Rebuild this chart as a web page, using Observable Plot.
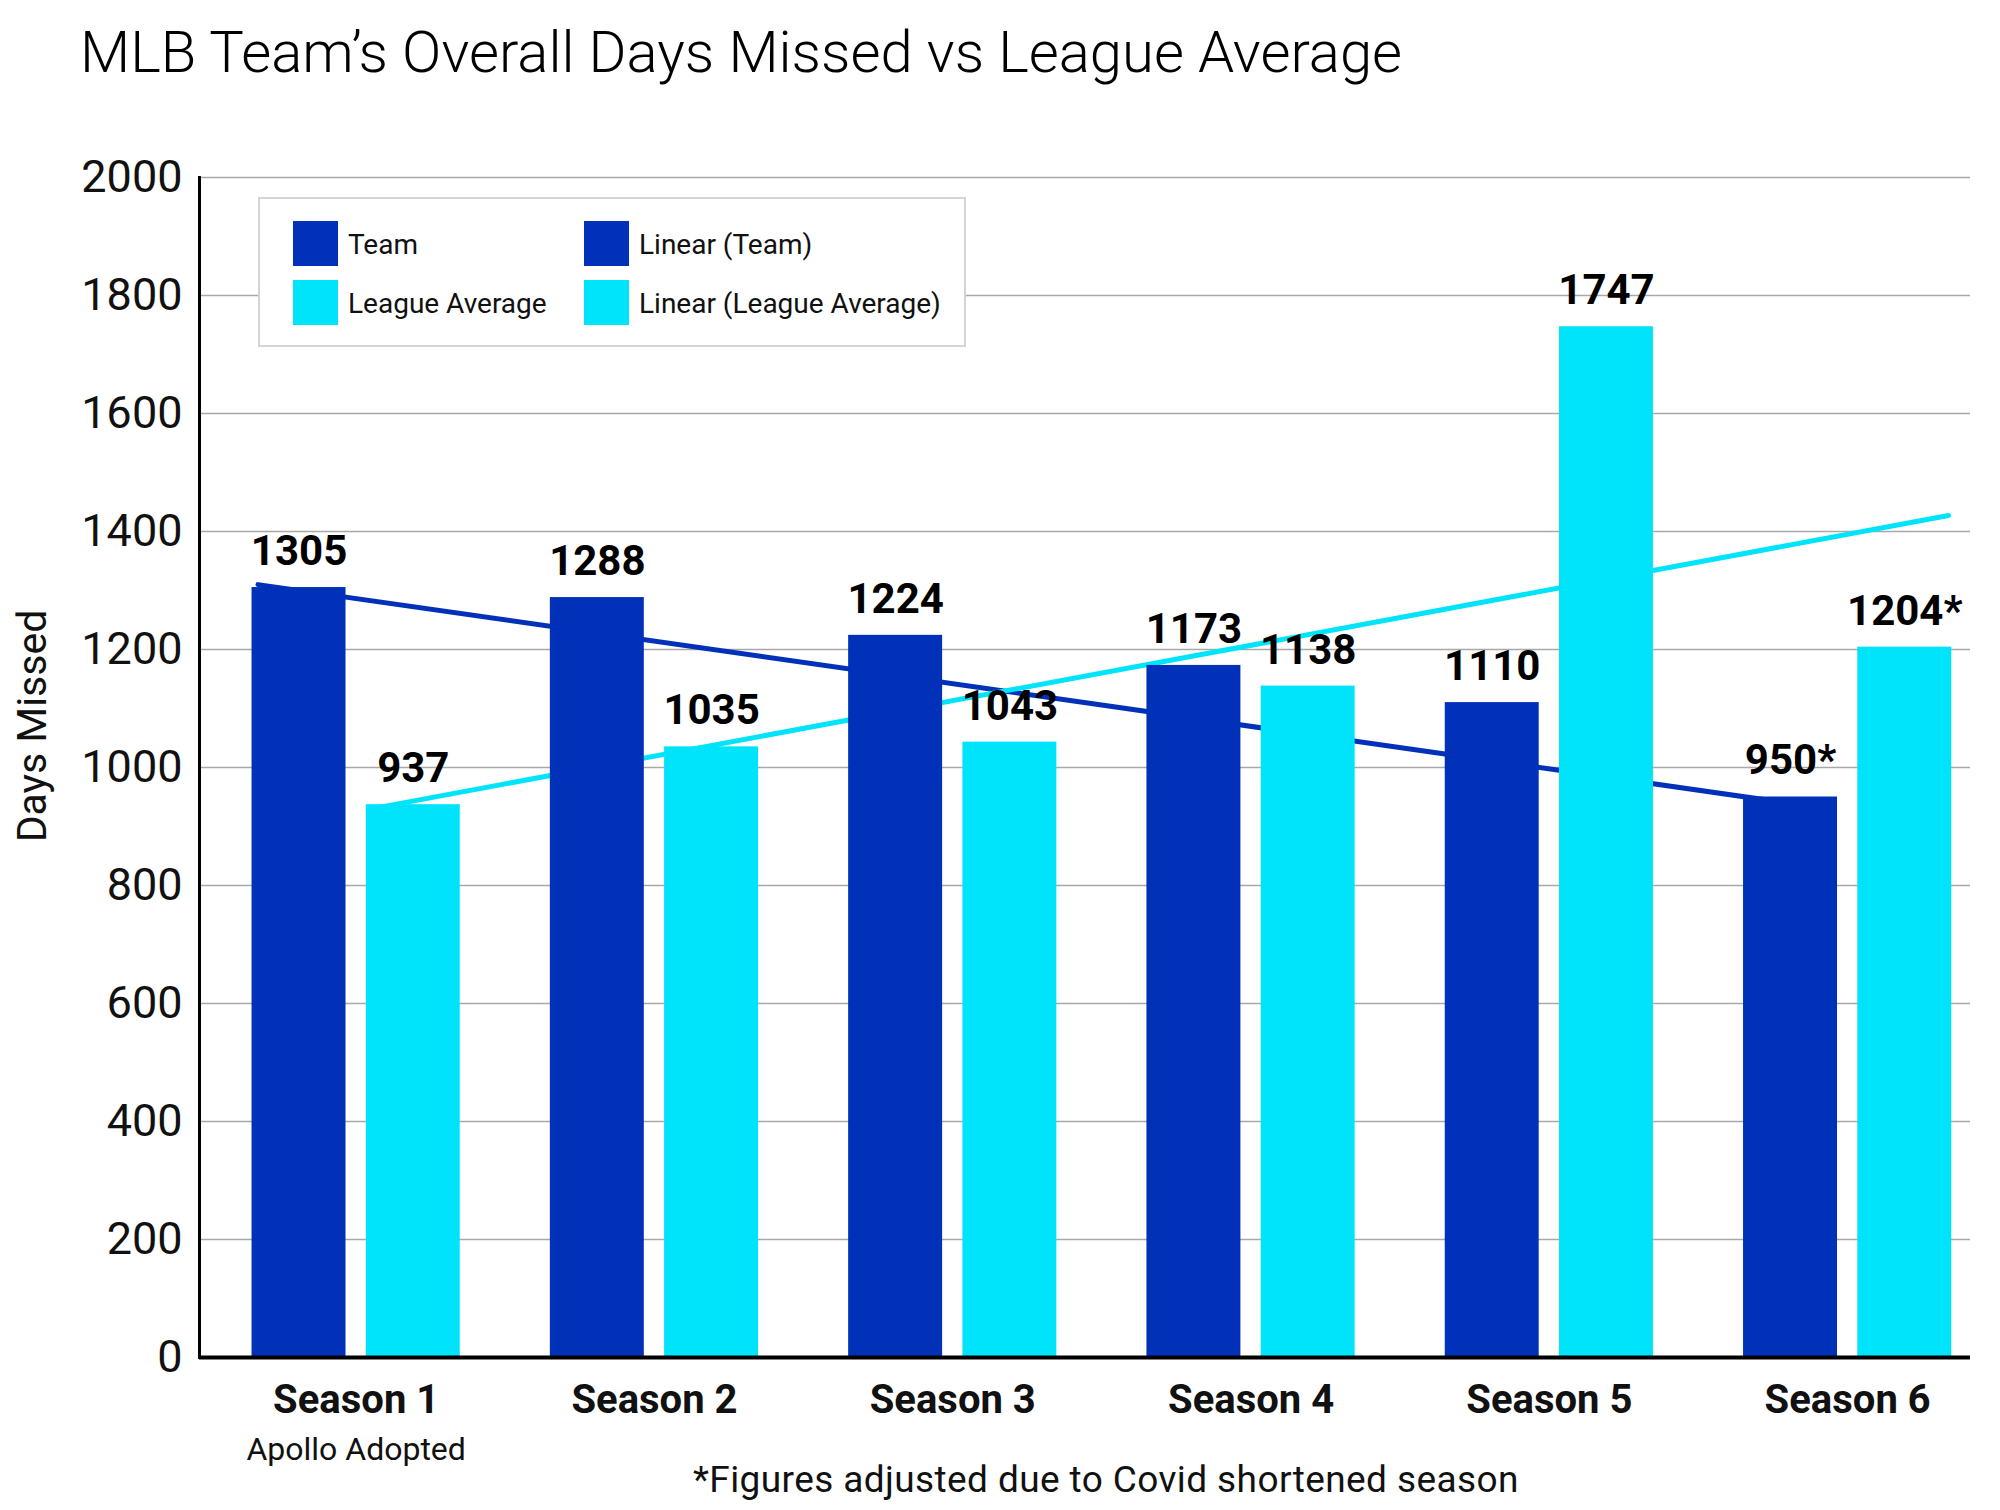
<!DOCTYPE html>
<html>
<head>
<meta charset="utf-8">
<script src="https://cdn.jsdelivr.net/npm/d3@7"></script>
<script src="https://cdn.jsdelivr.net/npm/@observablehq/plot@0.6"></script>
<style>
  body { margin: 0; background: #fff; font-family: Roboto, "Noto Sans", sans-serif; }
  #wrap { position: relative; width: 2000px; height: 1510px; overflow: hidden; background: #fff; }
  #title { position: absolute; left: 80px; top: 23px; font-size: 58px; font-weight: 300; line-height: 1; color: #000; white-space: nowrap; }
  #chart { position: absolute; left: 0; top: 110px; }
  #legend { position: absolute; left: 258px; top: 197px; width: 708px; height: 150px; box-sizing: border-box; border: 2px solid #d4d4d4; background: #fff; }
  .sw { position: absolute; width: 45px; height: 45px; }
  .lt { position: absolute; font-size: 28px; line-height: 1; color: #111; white-space: nowrap; }
  #ylabel { position: absolute; left: 32px; top: 726px; font-size: 41px; line-height: 1; color: #111; white-space: nowrap; transform: translate(-50%, -50%) rotate(-90deg); }
  #foot { position: absolute; left: 693px; top: 1461px; font-size: 37px; letter-spacing: 0.4px; line-height: 1; color: #111; white-space: nowrap; }
</style>
</head>
<body>
<div id="wrap">
  <div id="title">MLB Team’s Overall Days Missed vs League Average</div>
  <div id="chart"></div>
  <div id="ylabel">Days Missed</div>
  <div id="legend"></div>
  <div id="foot">*Figures adjusted due to Covid shortened season</div>
</div>
<script>
// ---- data ----
const seasons = ["Season 1", "Season 2", "Season 3", "Season 4", "Season 5", "Season 6"];
const seasonNotes = ["Apollo Adopted", "", "", "", "", ""];
const teamValues = [1305, 1288, 1224, 1173, 1110, 950];
const leagueValues = [937, 1035, 1043, 1138, 1747, 1204];
const teamLabels = ["1305", "1288", "1224", "1173", "1110", "950*"];
const leagueLabels = ["937", "1035", "1043", "1138", "1747", "1204*"];
// trend line values read at the two ends of each drawn line
const teamTrend = [1310, 930];
const leagueTrend = [932, 1427];
const yTicks = [0, 200, 400, 600, 800, 1000, 1200, 1400, 1600, 1800, 2000];
const seriesNames = ["Team", "League Average", "Linear (Team)", "Linear (League Average)"];

// ---- styling / layout ----
const BLUE = "#0131b8";
const CYAN = "#00e4fb";
const TEAM = [-0.349, -0.034];   // team bar extent within a season slot
const LEAGUE = [0.034, 0.349];   // league bar extent within a season slot

const rows = seasons.map((s, i) => ({
  i, season: s, note: seasonNotes[i],
  team: teamValues[i], league: leagueValues[i],
  teamLabel: teamLabels[i], leagueLabel: leagueLabels[i]
}));
const last = seasons.length - 1;
const teamLine = [
  {x: 0 + TEAM[0] + 0.02, y: teamTrend[0]},
  {x: last + TEAM[1] - 0.03, y: teamTrend[1]}
];
const leagueLine = [
  {x: 0 + LEAGUE[0] + 0.038, y: leagueTrend[0]},
  {x: last + LEAGUE[1] - 0.011, y: leagueTrend[1]}
];

const chart = Plot.plot({
  width: 2000,
  height: 1370,
  marginTop: 67,
  marginBottom: 123,
  marginLeft: 199,
  marginRight: 30,
  style: {fontFamily: "Roboto, 'Noto Sans', sans-serif", background: "transparent", color: "#111"},
  x: {type: "linear", domain: [-0.5, 5.5], range: [206.5, 1996.3]},
  y: {domain: [0, 2000]},
  marks: [
    Plot.gridY({ticks: yTicks, stroke: "#a8a8a8", strokeOpacity: 1, strokeWidth: 1.6}),
    Plot.axisY({ticks: yTicks, tickFormat: d => String(d), tickSize: 0, tickPadding: 17, fontSize: 45,
                fill: "#111", label: null}),
    Plot.axisX({ticks: rows.map(d => d.i), tickFormat: i => seasons[i], tickSize: 0, tickPadding: 27,
                fontSize: 40, fontWeight: 700, fill: "#111", label: null}),
    Plot.text(rows, {x: "i", y: 0, text: "note", dy: 80, lineAnchor: "top", fontSize: 32, fill: "#111"}),
    Plot.line(teamLine, {x: "x", y: "y", stroke: BLUE, strokeWidth: 5, strokeLinecap: "round"}),
    Plot.line(leagueLine, {x: "x", y: "y", stroke: CYAN, strokeWidth: 5, strokeLinecap: "round"}),
    Plot.rectY(rows, {x1: d => d.i + TEAM[0], x2: d => d.i + TEAM[1], y: "team", fill: BLUE}),
    Plot.rectY(rows, {x1: d => d.i + LEAGUE[0], x2: d => d.i + LEAGUE[1], y: "league", fill: CYAN}),
    Plot.text(rows, {x: d => d.i + (TEAM[0] + TEAM[1]) / 2, y: "team", text: "teamLabel", dy: -36,
                     lineAnchor: "middle", fontSize: 42, fontWeight: 700, fill: "#000"}),
    Plot.text(rows, {x: d => d.i + (LEAGUE[0] + LEAGUE[1]) / 2, y: "league", text: "leagueLabel", dy: -36,
                     lineAnchor: "middle", fontSize: 42, fontWeight: 700, fill: "#000"}),
    Plot.ruleY([0], {stroke: "#000", strokeWidth: 4}),
    Plot.frame({anchor: "left", stroke: "#000", strokeWidth: 3})
  ]
});
document.getElementById("chart").appendChild(chart);

// ---- legend (HTML overlay inside the plot area) ----
const legend = document.getElementById("legend");
const legendColors = [BLUE, CYAN, BLUE, CYAN];
const swX = [33, 33, 324, 324];
const swY = [22, 81, 22, 81];
seriesNames.forEach((name, k) => {
  const sw = document.createElement("div");
  sw.className = "sw";
  sw.style.left = swX[k] + "px";
  sw.style.top = swY[k] + "px";
  sw.style.background = legendColors[k];
  legend.appendChild(sw);
  const t = document.createElement("div");
  t.className = "lt";
  t.textContent = name;
  t.style.left = (swX[k] + 55) + "px";
  t.style.top = (swY[k] + 10) + "px";
  legend.appendChild(t);
});
</script>
</body>
</html>
